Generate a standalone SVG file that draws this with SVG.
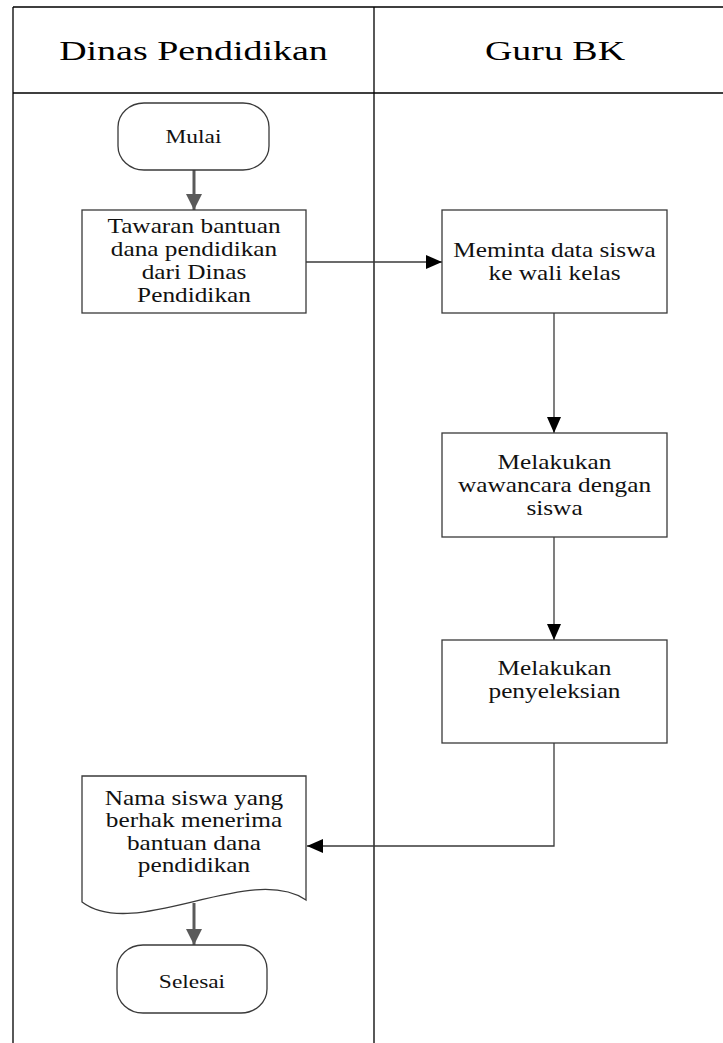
<svg xmlns="http://www.w3.org/2000/svg" width="723" height="1043" viewBox="0 0 723 1043">
<defs>
<style>
.lane{stroke:#000;stroke-width:1.3;fill:none}
.box{fill:#fff;stroke:#3a3a3a;stroke-width:1.3}
.h{font-family:"Liberation Serif","Times New Roman",serif;font-size:28px;fill:#000;text-anchor:middle}
.b{font-family:"Liberation Serif","Times New Roman",serif;font-size:20px;fill:#111;text-anchor:middle}
.t{font-family:"Liberation Serif","Times New Roman",serif;font-size:18.5px;fill:#111;text-anchor:middle}
.thin{stroke:#3a3a3a;stroke-width:1.3;fill:none}
.thick{stroke:#5a5a5a;stroke-width:3;fill:none}
</style>
<marker id="ab" viewBox="0 0 16 14" refX="16" refY="7" markerWidth="16" markerHeight="14" markerUnits="userSpaceOnUse" orient="auto"><path d="M0,0 L16,7 L0,14 Z" fill="#000"/></marker>
<marker id="ag" viewBox="0 0 16 16" refX="16" refY="8" markerWidth="16" markerHeight="16" markerUnits="userSpaceOnUse" orient="auto"><path d="M0,0 L16,8 L0,16 Z" fill="#5a5a5a"/></marker>
</defs>
<rect width="723" height="1043" fill="#fff"/>
<g id="lanes">
<path class="lane" d="M13,7 H723 M13,93 H723 M13,7 V1043 M374,7 V1043"/>
<text class="h" transform="matrix(1.355 0 0 1 193.5 0)" x="0" y="60">Dinas Pendidikan</text>
<text class="h" transform="matrix(1.355 0 0 1 555 0)" x="0" y="60">Guru BK</text>
</g>
<g id="connectors">
<path class="thick" d="M194,170 V210" marker-end="url(#ag)"/>
<path class="thin" d="M306,262 H442" marker-end="url(#ab)"/>
<path class="thin" d="M554,313 V433" marker-end="url(#ab)"/>
<path class="thin" d="M554,537 V640" marker-end="url(#ab)"/>
<path class="thin" d="M554,743 V846 H307" marker-end="url(#ab)"/>
<path class="thick" d="M194,903 V945" marker-end="url(#ag)"/>
</g>
<g id="mulai">
<rect class="box" x="118" y="103" width="151" height="67" rx="26" ry="24"/>
<text class="t" transform="matrix(1.265 0 0 1 193.5 0)" x="0" y="143">Mulai</text>
</g>
<g id="tawaran">
<rect class="box" x="82" y="210" width="224" height="103"/>
<text class="b" transform="matrix(1.265 0 0 1 194 0)"><tspan x="0" y="233">Tawaran bantuan</tspan><tspan x="0" y="256">dana pendidikan</tspan><tspan x="0" y="279">dari Dinas</tspan><tspan x="0" y="302">Pendidikan</tspan></text>
</g>
<g id="meminta">
<rect class="box" x="442" y="210" width="225" height="103"/>
<text class="b" transform="matrix(1.265 0 0 1 554.5 0)"><tspan x="0" y="257">Meminta data siswa</tspan><tspan x="0" y="280">ke wali kelas</tspan></text>
</g>
<g id="wawancara">
<rect class="box" x="442" y="433" width="225" height="104"/>
<text class="b" transform="matrix(1.265 0 0 1 554.5 0)"><tspan x="0" y="469">Melakukan</tspan><tspan x="0" y="492">wawancara dengan</tspan><tspan x="0" y="515">siswa</tspan></text>
</g>
<g id="penyeleksian">
<rect class="box" x="442" y="640" width="225" height="103"/>
<text class="b" transform="matrix(1.265 0 0 1 554.5 0)"><tspan x="0" y="675">Melakukan</tspan><tspan x="0" y="698">penyeleksian</tspan></text>
</g>
<g id="dokumen">
<path class="box" d="M82,776 H306 V900 C250,862 135,942 82,902 Z"/>
<text class="b" transform="matrix(1.265 0 0 1 194 0)"><tspan x="0" y="805">Nama siswa yang</tspan><tspan x="0" y="827.5">berhak menerima</tspan><tspan x="0" y="850">bantuan dana</tspan><tspan x="0" y="872.5">pendidikan</tspan></text>
</g>
<g id="selesai">
<rect class="box" x="117" y="945" width="150" height="68" rx="26" ry="24"/>
<text class="t" transform="matrix(1.265 0 0 1 192 0)" x="0" y="988">Selesai</text>
</g>
</svg>
